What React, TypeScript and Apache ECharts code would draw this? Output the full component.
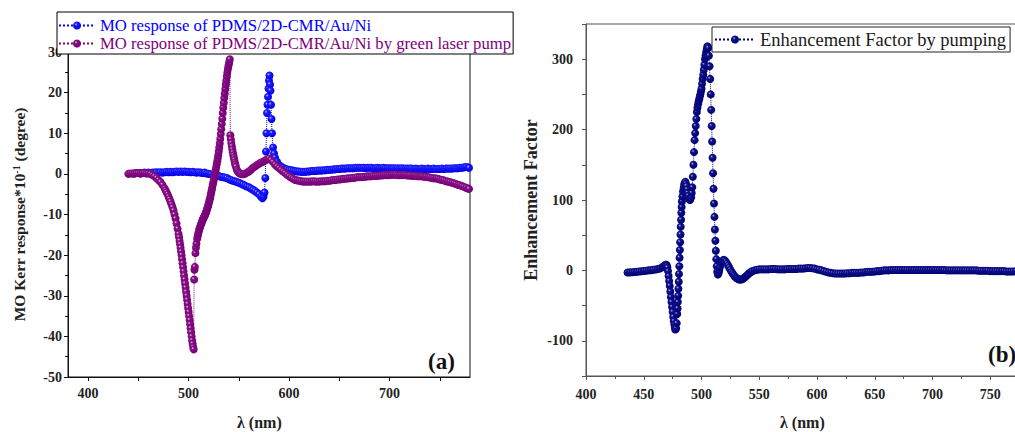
import React, { useEffect, useRef } from 'react';
import * as echarts from 'echarts';

const FONT = '"Liberation Serif", "Times New Roman", serif';

const legendA = ['MO response of PDMS/2D-CMR/Au/Ni', 'MO response of PDMS/2D-CMR/Au/Ni by green laser pump'];
const legendB = ['Enhancement Factor by pumping'];

const xTicksA = [400, 450, 500, 550, 600, 650, 700, 750];
const xLabelsA = [400, 500, 600, 700];

// (a) MO response without pump: [wavelength nm, Kerr*10^-1 deg]
const blueA: [number, number][] = [
  [446, 0.1], [448, 0.2], [450, 0.2], [452, 0.1], [454, 0.2], [456, 0.3], [458, 0.2], [460, 0.3], [462, 0.2],
  [464, 0.3], [466, 0.3], [468, 0.4], [470, 0.3], [472, 0.4], [474, 0.3], [476, 0.4], [478, 0.5], [480, 0.4],
  [482, 0.5], [484, 0.4], [486, 0.5], [488, 0.6], [490, 0.5], [492, 0.6], [494, 0.5], [496, 0.6], [498, 0.5],
  [500, 0.5], [502, 0.4], [504, 0.5], [506, 0.4], [508, 0.3], [510, 0.4], [512, 0.3], [514, 0.2], [516, 0.3],
  [518, 0.1], [520, 0], [522, -0.1], [524, -0.3], [526, -0.3], [528, -0.5], [530, -0.5], [532, -0.7], [534, -0.8],
  [536, -0.9], [538, -1], [540, -1.3], [542, -1.5], [544, -1.7], [546, -1.8], [548, -2], [550, -2.2], [552, -2.4],
  [554, -2.6], [556, -2.9], [558, -3.1], [560, -3.3], [562, -3.6], [564, -3.9], [566, -4.2], [568, -4.6],
  [570, -5], [572, -5.6], [573.5, -6], [574.5, -5.6], [575.5, -4.6], [576.3, -1], [577, 5.5], [577.5, 10],
  [578, 15], [578.5, 17], [579, 19], [579.5, 21], [580, 23], [580.5, 24.2], [581, 22], [581.5, 20.5], [582, 17],
  [582.5, 13.5], [583, 10], [584, 6.5], [585, 5], [586, 4], [588, 3], [590, 2.2], [592, 1.8], [594, 1.5],
  [596, 1.2], [598, 1.1], [600, 1], [602, 0.9], [604, 0.8], [606, 0.7], [608, 0.6], [610, 0.6], [612, 0.5],
  [614, 0.5], [616, 0.5], [618, 0.6], [620, 0.6], [622, 0.7], [624, 0.7], [626, 0.7], [628, 0.8], [630, 0.8],
  [632, 0.8], [634, 0.9], [636, 0.9], [638, 1], [640, 1], [642, 1], [644, 1.1], [646, 1.1], [648, 1.2], [650, 1.2],
  [652, 1.3], [654, 1.3], [656, 1.3], [658, 1.4], [660, 1.4], [662, 1.4], [664, 1.4], [666, 1.5], [668, 1.5],
  [670, 1.5], [672, 1.5], [674, 1.5], [676, 1.4], [678, 1.5], [680, 1.5], [682, 1.5], [684, 1.4], [686, 1.4],
  [688, 1.5], [690, 1.4], [692, 1.4], [694, 1.5], [696, 1.4], [698, 1.4], [700, 1.4], [702, 1.4], [704, 1.4],
  [706, 1.3], [708, 1.4], [710, 1.3], [712, 1.4], [714, 1.3], [716, 1.3], [718, 1.3], [720, 1.3], [722, 1.3],
  [724, 1.2], [726, 1.3], [728, 1.2], [730, 1.2], [732, 1.3], [734, 1.2], [736, 1.2], [738, 1.3], [740, 1.2],
  [742, 1.2], [744, 1.3], [746, 1.2], [748, 1.2], [750, 1.2], [752, 1.3], [754, 1.2], [756, 1.3], [758, 1.3],
  [760, 1.3], [762, 1.3], [764, 1.4], [766, 1.4], [768, 1.4], [770, 1.5], [772, 1.5], [774, 1.6], [776, 1.7],
  [778, 1.6], [779, 1.5],
];

// (a) MO response with green laser pump
const purpleA: [number, number][] = [
  [440, 0], [442, 0.1], [444, 0.1], [446, 0.1], [448, 0.2], [450, 0.2], [452, 0.1], [454, 0.2], [456, 0.2],
  [458, 0.1], [460, 0.1], [462, 0], [464, -0.3], [466, -0.6], [468, -1], [470, -1.5], [472, -2], [474, -2.7],
  [476, -3.5], [477, -4], [478, -4.5], [479, -5], [480, -5.6], [481, -6.2], [482, -6.8], [483, -7.5], [484, -8.2],
  [485, -9], [486, -10], [487, -11], [488, -12.2], [489, -13.5], [490, -14.8], [490.5, -15.6], [491, -16.5],
  [491.5, -17.3], [492, -18.2], [492.5, -19.1], [493, -20], [493.5, -21], [494, -22], [494.5, -23], [495, -24],
  [495.5, -25], [496, -26], [496.5, -27], [497, -28], [497.5, -29], [498, -30], [498.5, -31], [499, -32],
  [499.5, -33], [500, -34], [500.5, -35], [501, -36], [501.5, -37], [502, -38], [502.5, -39], [503, -40],
  [503.5, -41], [504, -41.8], [504.5, -42.6], [505, -43.2], [505.5, -26], [505.8, -23.6], [506.2, -22.9],
  [506.8, -19.5], [507.3, -18.2], [507.8, -17.2], [508.5, -16], [509, -15.4], [509.5, -14.8], [510, -14.3],
  [510.5, -13.8], [511, -13.4], [511.5, -13], [512, -12.6], [512.5, -12.3], [513, -12], [513.5, -11.6],
  [514, -11.3], [514.5, -11], [515, -10.8], [515.5, -10.5], [516, -10.3], [516.5, -10], [517, -9.7],
  [517.5, -9.3], [518, -9], [518.5, -8.6], [519, -8.2], [519.5, -7.8], [520, -7.3], [520.5, -6.8], [521, -6.3],
  [521.5, -5.8], [522, -5.2], [522.5, -4.6], [523, -4], [523.5, -3.4], [524, -2.7], [524.5, -2.1], [525, -1.5],
  [525.5, -0.9], [526, -0.3], [526.5, 0.3], [527, 1], [527.5, 1.7], [528, 2.4], [528.5, 3.1], [529, 3.8],
  [529.5, 4.6], [530, 5.5], [530.5, 6.5], [531, 7.5], [531.5, 8.6], [532, 9.8], [532.5, 11], [533, 12.3],
  [533.5, 13.6], [534, 15], [534.5, 16.3], [535, 17.5], [535.5, 18.7], [536, 19.8], [536.5, 20.9], [537, 22],
  [537.5, 23], [538, 24], [538.5, 24.9], [539, 25.7], [539.5, 26.4], [540, 27], [540.5, 27.6], [541, 28.2],
  [541.5, 9.5], [542, 8.5], [542.5, 7.6], [543, 6.8], [543.5, 6], [544, 5.3], [544.5, 4.6], [545, 4],
  [545.5, 3.4], [546, 2.8], [546.5, 2.3], [547, 1.8], [548, 1], [549, 0.6], [550, 0.3], [551, 0.1], [552, 0],
  [554, -0.1], [556, 0], [558, 0.3], [560, 0.6], [562, 1], [564, 1.5], [566, 1.8], [568, 2.2], [570, 2.5],
  [572, 2.8], [574, 3], [576, 3.3], [578, 3.6], [580, 3.8], [582, 3.4], [584, 2.9], [586, 2.3], [588, 1.8],
  [590, 1.4], [592, 1], [594, 0.6], [596, 0.2], [598, -0.2], [600, -0.6], [602, -0.9], [604, -1.2], [606, -1.5],
  [608, -1.6], [610, -1.7], [612, -1.8], [614, -1.9], [616, -1.9], [618, -1.9], [620, -1.9], [622, -1.9],
  [624, -1.8], [626, -1.9], [628, -1.9], [630, -1.9], [632, -1.8], [634, -1.8], [636, -1.8], [638, -1.7],
  [640, -1.7], [642, -1.6], [644, -1.5], [646, -1.5], [648, -1.4], [650, -1.4], [652, -1.3], [654, -1.2],
  [656, -1.2], [658, -1.1], [660, -1.1], [662, -1], [664, -1], [666, -0.9], [668, -0.8], [670, -0.8],
  [672, -0.8], [674, -0.7], [676, -0.7], [678, -0.6], [680, -0.6], [682, -0.6], [684, -0.5], [686, -0.5],
  [688, -0.5], [690, -0.4], [692, -0.4], [694, -0.3], [696, -0.3], [698, -0.3], [700, -0.3], [702, -0.2],
  [704, -0.2], [706, -0.2], [708, -0.3], [710, -0.3], [712, -0.3], [714, -0.3], [716, -0.3], [718, -0.4],
  [720, -0.4], [722, -0.5], [724, -0.5], [726, -0.5], [728, -0.6], [730, -0.6], [732, -0.6], [734, -0.7],
  [736, -0.7], [738, -0.8], [740, -0.9], [742, -1], [744, -1.1], [746, -1.1], [748, -1.2], [750, -1.4],
  [752, -1.5], [754, -1.6], [756, -1.8], [758, -1.9], [760, -2], [762, -2.2], [764, -2.3], [766, -2.5],
  [768, -2.7], [770, -2.8], [772, -3], [774, -3.2], [776, -3.4], [778, -3.6], [779, -3.7],
];

// (b) Enhancement factor by pumping
const navyB: [number, number][] = [
  [436, -3], [438, -2.8], [440, -2.6], [442, -2.3], [444, -2], [446, -1.6], [448, -1.2], [450, -0.8], [452, -0.5],
  [454, 0], [456, 0.3], [458, 0.8], [460, 1.2], [462, 1.8], [464, 2.8], [466, 4.5], [467, 5.5], [468, 7], [469, 8],
  [469.5, 8], [470, 6.5], [470.5, 4], [471, -1], [471.5, -8], [472, -15], [472.5, -22], [473, -30], [473.5, -38],
  [474, -45], [474.5, -52], [475, -59], [475.5, -66], [476, -72], [476.5, -77], [477, -81], [477.3, -84],
  [477.7, -83], [478, -82], [478.5, -75], [479, -62], [479.3, -54], [479.5, -45], [479.8, -36], [480, -26],
  [480.3, -16], [480.5, -5], [480.8, 6], [481, 18], [481.3, 29], [481.5, 40], [481.8, 51], [482, 62], [482.3, 72],
  [482.5, 82], [482.8, 90], [483, 98], [483.5, 105], [484, 112], [484.5, 117], [485, 122], [485.5, 124], [486, 126],
  [486.5, 123], [487, 120], [487.5, 115], [488, 110], [488.5, 106], [489, 102], [489.5, 101], [490, 100],
  [490.5, 102], [491, 104], [491.5, 110], [492, 118], [492.5, 133], [493, 150], [493.5, 168], [494, 185],
  [494.5, 195], [495, 205], [495.5, 215], [496, 225], [496.5, 231], [497, 236], [497.5, 240], [498, 243],
  [498.5, 247], [499, 250], [499.5, 254], [500, 258], [500.5, 265], [501, 272], [501.5, 278], [502, 285],
  [502.5, 292], [503, 300], [503.5, 305], [504, 310], [504.5, 314], [505, 318], [505.4, 318], [505.8, 316],
  [506.4, 305], [507, 290], [507.5, 272], [508, 250], [508.4, 228], [508.8, 205], [509.2, 183], [509.6, 160],
  [510, 138], [510.4, 116], [510.8, 95], [511.2, 76], [511.6, 58], [512, 42], [512.4, 28], [512.8, 16], [513.2, 6],
  [513.6, -2], [514.2, -6], [514.8, -4], [515.4, 0], [516, 5], [517, 10], [518, 13], [519, 15], [520, 14.5],
  [521, 12.5], [522, 10], [523, 7], [524, 4], [525, 1], [526, -2], [527, -4.5], [528, -7], [529, -9], [530, -10.5],
  [531, -11.5], [532, -12.5], [533, -13], [534, -13], [535, -12.5], [536, -12], [537, -10.5], [538, -9],
  [539, -7.5], [540, -6], [541, -4.5], [542, -3], [543, -2], [544, -1], [546, 0], [548, 1], [550, 1.5], [552, 1.5],
  [554, 1.5], [556, 1.5], [558, 1.5], [560, 2], [562, 2], [564, 2], [566, 1.5], [568, 1.5], [570, 1.5], [572, 1.5],
  [574, 2], [576, 2], [578, 2], [580, 2], [582, 2], [584, 2.5], [586, 2.5], [588, 2.5], [590, 3], [592, 3.5],
  [594, 3.5], [596, 3], [598, 2.5], [600, 1.5], [602, 1], [604, 0], [606, -1], [608, -2], [610, -3], [612, -3.5],
  [614, -4], [616, -4.5], [618, -4.5], [620, -4.5], [622, -4.5], [624, -4.5], [626, -4], [628, -4], [630, -3.5],
  [632, -3.5], [634, -3.5], [636, -3.5], [638, -3], [640, -3], [642, -2.5], [644, -2], [646, -2], [648, -2],
  [650, -1.5], [652, -1], [654, -1], [656, -0.5], [658, 0], [660, 0], [662, 0], [664, 0.5], [666, 0.5], [668, 0.5],
  [670, 0.5], [672, 0.5], [674, 0.5], [676, 0.5], [678, 0.5], [680, 0.5], [682, 0.5], [684, 0.5], [686, 0.5],
  [688, 0.5], [690, 0.5], [692, 0.5], [694, 0.5], [696, 0.5], [698, 0.5], [700, 0.5], [702, 0.5], [704, 0.5],
  [706, 0.5], [708, 0.5], [710, 0.5], [712, 0], [714, 0], [716, 0], [718, 0], [720, 0], [722, 0], [724, 0],
  [726, 0], [728, 0], [730, 0], [732, 0], [734, 0], [736, 0], [738, 0], [740, -0.5], [742, -0.5], [744, -0.5],
  [746, -0.5], [748, -0.5], [750, -1], [752, -1], [754, -1], [756, -1], [758, -1], [760, -1], [762, -1],
  [764, -1.5], [766, -1.5], [768, -1.5], [770, -1.5], [772, -1.5], [774, -2], [776, -2], [778, -2], [780, -2],
];

function ball(light: string, mid: string, dark: string) {
  return new echarts.graphic.RadialGradient(0.38, 0.35, 0.65, [
    { offset: 0, color: light },
    { offset: 0.28, color: mid },
    { offset: 1, color: dark },
  ]);
}

const labelStyle = { fontFamily: FONT, fontWeight: 'bold' as const, fontSize: 14, color: '#222' };

export default function App() {
  const ref = useRef<HTMLDivElement>(null);
  useEffect(() => {
    const chart = echarts.init(ref.current!, null, { renderer: 'svg' });
    const option: any = {
      animation: false,
      backgroundColor: '#fff',
      grid: [
        { left: 68, top: 52, width: 402, height: 325, show: true, borderColor: '#111', borderWidth: 1, backgroundColor: 'transparent' },
        { left: 586, top: 24, width: 462, height: 352, show: true, borderColor: '#555', borderWidth: 1, backgroundColor: 'transparent' },
      ],
      xAxis: [
        {
          gridIndex: 0, type: 'value', min: 380, max: 780,
          axisLine: { show: true, onZero: false, lineStyle: { color: '#111' } },
          axisTick: { show: true, length: 4, customValues: xTicksA, lineStyle: { color: '#111' } },
          axisLabel: { ...labelStyle, margin: 9, customValues: xLabelsA },
          splitLine: { show: false },
        },
        {
          gridIndex: 1, type: 'value', min: 400, max: 800, interval: 50,
          axisLine: { show: true, onZero: false, lineStyle: { color: '#555' } },
          axisTick: { show: true, length: 4, lineStyle: { color: '#555' } },
          minorTick: { show: true, splitNumber: 2, length: 3, lineStyle: { color: '#555' } },
          axisLabel: { ...labelStyle, margin: 11, showMaxLabel: false },
          splitLine: { show: false },
        },
      ],
      yAxis: [
        {
          gridIndex: 0, type: 'value', min: -50, max: 30, interval: 10,
          axisLine: { show: true, onZero: false, lineStyle: { color: '#111' } },
          axisTick: { show: true, length: 4, lineStyle: { color: '#111' } },
          minorTick: { show: true, splitNumber: 2, length: 3, lineStyle: { color: '#111' } },
          axisLabel: { ...labelStyle, margin: 6 },
          splitLine: { show: false },
          name: '{a|MO Kerr response*10}{s|-1}{a| (degree)}',
          nameLocation: 'middle', nameGap: 41, nameRotate: 90,
          nameTextStyle: {
            rich: {
              a: { fontFamily: FONT, fontWeight: 'bold', fontSize: 15.5, color: '#222', lineHeight: 16 },
              s: { fontFamily: FONT, fontWeight: 'bold', fontSize: 10, color: '#222', verticalAlign: 'top', lineHeight: 16 },
            },
          },
        },
        {
          gridIndex: 1, type: 'value', min: -150, max: 350, interval: 50,
          axisLine: { show: true, onZero: false, lineStyle: { color: '#555' } },
          axisTick: { show: true, length: 4, lineStyle: { color: '#555' } },
          axisLabel: { ...labelStyle, margin: 13, formatter: (v: number) => (v % 100 === 0 ? String(v) : '') },
          splitLine: { show: false },
          name: 'Enhancement Factor',
          nameLocation: 'middle', nameGap: 46, nameRotate: 90,
          nameTextStyle: { fontFamily: FONT, fontWeight: 'bold', fontSize: 18, color: '#222' },
        },
      ],
      legend: [
        {
          data: [
            { name: legendA[0], textStyle: { color: '#0000ff' } },
            { name: legendA[1], textStyle: { color: '#800080' } },
          ],
          orient: 'vertical', left: 57, top: 12, itemWidth: 36, itemHeight: 10, itemGap: 1,
          padding: [5, 2, 2, 1], borderColor: '#000', borderWidth: 1, backgroundColor: '#fff',
          textStyle: { fontFamily: FONT, fontSize: 16.7 }, selectedMode: false,
        },
        {
          data: [{ name: legendB[0], textStyle: { color: '#1a1a1a' } }],
          orient: 'vertical', left: 712, top: 27, itemWidth: 40, itemHeight: 10, itemGap: 3,
          padding: [3, 4, 3, 2], borderColor: '#222', borderWidth: 1, backgroundColor: '#fff',
          textStyle: { fontFamily: FONT, fontSize: 18.5 }, selectedMode: false,
        },
      ],
      series: [
        {
          type: 'line', name: legendA[0], xAxisIndex: 0, yAxisIndex: 0, data: blueA,
          symbol: 'circle', symbolSize: 8, showAllSymbol: true,
          lineStyle: { type: 'dotted', width: 1, color: '#0000ff' },
          itemStyle: { color: ball('#c8c8ff', '#1c1cff', '#0000e0') }, z: 2,
        },
        {
          type: 'line', name: legendA[1], xAxisIndex: 0, yAxisIndex: 0, data: purpleA,
          symbol: 'circle', symbolSize: 8, showAllSymbol: true,
          lineStyle: { type: 'dotted', width: 1, color: '#800080' },
          itemStyle: { color: ball('#e0c0e0', '#861086', '#740074') }, z: 3,
        },
        {
          type: 'line', name: legendB[0], xAxisIndex: 1, yAxisIndex: 1, data: navyB,
          symbol: 'circle', symbolSize: 8, showAllSymbol: true,
          lineStyle: { type: 'dotted', width: 1, color: '#000080' },
          itemStyle: { color: ball('#b0b0e0', '#10108a', '#000074') }, z: 2,
        },
      ],
      graphic: [
        { type: 'text', left: 237, top: 414, style: { text: 'λ (nm)', font: `bold 16px ${FONT}`, fill: '#222' } },
        { type: 'text', left: 780, top: 414, style: { text: 'λ (nm)', font: `bold 16px ${FONT}`, fill: '#222' } },
        { type: 'text', left: 428, top: 350, style: { text: '(a)', font: `bold 23px ${FONT}`, fill: '#111' } },
        { type: 'text', left: 988, top: 343, style: { text: '(b)', font: `bold 23px ${FONT}`, fill: '#111' } },
      ],
    };
    chart.setOption(option);
    return () => chart.dispose();
  }, []);
  return (
    <div style={{ position: 'absolute', left: 0, top: 0, width: 1015, height: 432, overflow: 'hidden', background: '#fff' }}>
      <div ref={ref} style={{ width: 1100, height: 432 }} />
    </div>
  );
}
